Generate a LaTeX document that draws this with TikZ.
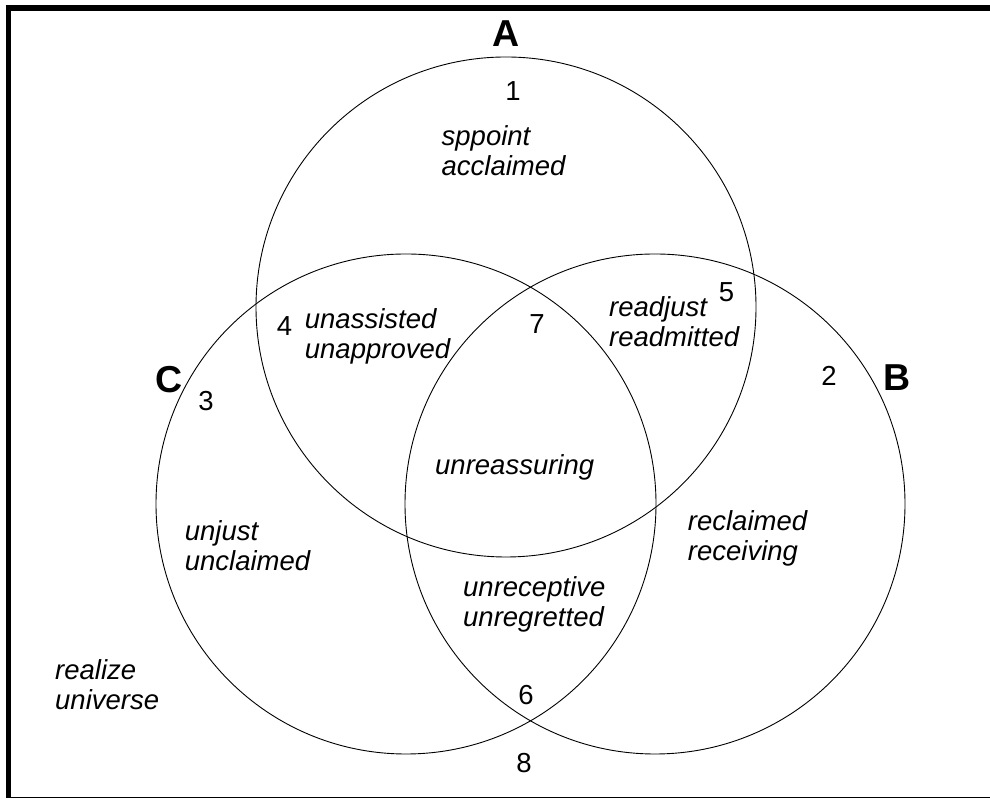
\documentclass[tikz,border=0pt]{standalone}
\usepackage{fontspec}
\setmainfont{Liberation Sans}
\begin{document}
\begin{tikzpicture}[x=1pt,y=1pt,
  setlabel/.style={inner sep=0pt, font=\fontsize{37.5}{40}\selectfont\bfseries},
  numlabel/.style={inner sep=0pt, font=\fontsize{27.5}{30}\selectfont},
  words/.style={inner sep=0pt, anchor=base west, align=left, font=\fontsize{27.5}{30}\selectfont\itshape},
  circ/.style={line width=0.9pt}]
\useasboundingbox (0,0) rectangle (990,799);
% frame
\draw[line width=6pt] (5.5,791) -- (990,791);
\draw[line width=5.5pt] (8.5,794) -- (8.5,0.75);
\draw[line width=1.5pt] (5.75,1.5) -- (990,1.5);
% circles
\coordinate (cA) at (506,492);
\coordinate (cB) at (655,295);
\coordinate (cC) at (406,295);
\draw[circ] (cA) circle (250);
\draw[circ] (cB) circle (250);
\draw[circ] (cC) circle (250);
% set labels
\node[setlabel] (lA) at (506,765) {A};
\node[setlabel] (lB) at (897,421) {B};
\node[setlabel] (lC) at (169,419) {C};
% region numbers
\node[numlabel] (n1) at (513,708) {1};
\node[numlabel] (n2) at (829,423) {2};
\node[numlabel] (n3) at (206,398) {3};
\node[numlabel] (n4) at (284.5,473) {4};
\node[numlabel] (n5) at (726.5,507) {5};
\node[numlabel] (n6) at (526,104) {6};
\node[numlabel] (n7) at (537,475) {7};
\node[numlabel] (n8) at (524,36) {8};
% region words (anchor = baseline of last line)
\node[words] (w1) at (441.5,623) {sppoint\\acclaimed};
\node[words] (w4) at (304.7,440.4) {unassisted\\unapproved};
\node[words] (w5) at (609,452) {readjust\\readmitted};
\node[words] (w7) at (435,324) {unreassuring};
\node[words] (w3) at (184.7,228.3) {unjust\\unclaimed};
\node[words] (w2) at (687.7,238) {reclaimed\\receiving};
\node[words] (w6) at (463,172) {unreceptive\\unregretted};
\node[words] (w8) at (55,89) {realize\\universe};
\end{tikzpicture}
\end{document}
